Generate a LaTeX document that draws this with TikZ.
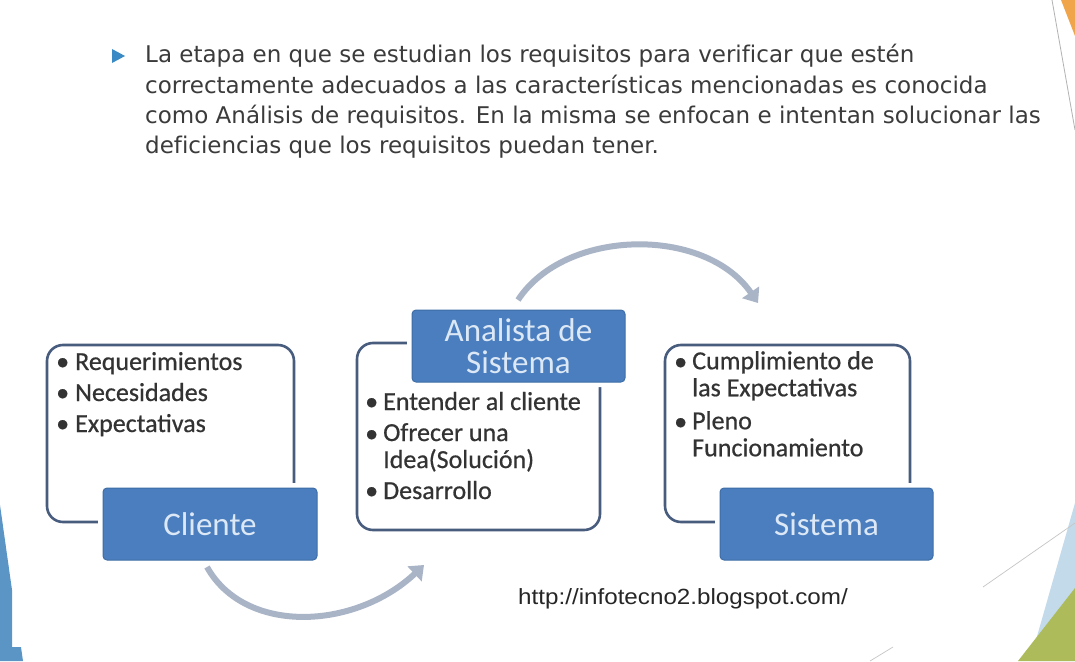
\documentclass[tikz,border=0pt]{standalone}
\usepackage{fontspec}
\setmainfont[Ligatures=NoCommon]{DejaVu Sans}
\newfontfamily\calib{Carlito}
\newfontfamily\calibb[FakeBold=0.6]{Carlito}
\newfontfamily\arialf{Liberation Sans}
\usetikzlibrary{arrows.meta,calc}
\definecolor{boxblue}{HTML}{4A7EBF}
\definecolor{boxedge}{HTML}{3F6DA6}
\definecolor{boxtext}{HTML}{DCE8F5}
\definecolor{panelline}{HTML}{485C7E}
\definecolor{arrowgray}{HTML}{A9B5C7}
\definecolor{bodytext}{HTML}{3B3B3B}
\definecolor{itemtext}{HTML}{333333}
\definecolor{tri}{HTML}{3A8AC6}
\definecolor{decoblue}{HTML}{5A95C5}
\definecolor{lightblue}{HTML}{C3DAEA}
\definecolor{decogreen}{HTML}{ADBB5A}
\definecolor{decoorange}{HTML}{F0A54A}
\begin{document}
\begin{tikzpicture}[x=1pt,y=-1pt,
  titlebox/.style={preaction={draw=white,line width=10pt},fill=boxblue,draw=boxedge,line width=1pt,
     rounded corners=4pt,minimum width=213pt,minimum height=72pt,inner sep=0pt,
     text=boxtext,font=\calib\fontsize{33}{33}\selectfont,align=center},
  panel/.style={draw=panelline,line width=2.6pt,rounded corners=16pt},
  item/.style={anchor=base west,inner sep=0pt,text=itemtext,font=\calibb\fontsize{26}{27}\selectfont},
  bul/.style={anchor=base west,inner sep=0pt,text=itemtext,font=\calibb\fontsize{26}{27}\selectfont},
  para/.style={anchor=base west,inner sep=0pt,text=bodytext,font=\fontsize{23}{30}\selectfont},
  flow/.style={draw=arrowgray,line width=6pt,-{Triangle[length=13pt,width=20pt]}}]
\useasboundingbox (0,0) rectangle (1075,661);
\fill[white] (0,0) rectangle (1075,661);
% decorations
\fill[decoblue] (0,505) -- (12,590) -- (12,647) -- (21,647) -- (23,661) -- (0,661) -- cycle;
\fill[decoorange] (1061,0) -- (1075,0) -- (1075,36) -- cycle;
\draw[gray!60,line width=0.8pt] (1052,0) -- (1075,130);
\fill[lightblue] (1075,503) -- (1030,661) -- (1075,661) -- cycle;
\fill[decogreen] (1018,661) -- (1075,588) -- (1075,661) -- cycle;
\draw[gray!45,line width=0.7pt] (983,587) -- (1075,523);
\draw[gray!45,line width=0.7pt] (870,661) -- (893,647);
% header paragraph
\fill[tri] (112,49) -- (125,56) -- (112,63) -- cycle;
\node[para] (p1) at (145,63) {La etapa en que se estudian los requisitos para verificar que estén};
\node[para] (p2) at (145,93) {correctamente adecuados a las características mencionadas es conocida};
\node[para] (p3) at (145,123) {como Análisis de requisitos. En la misma se enfocan e intentan solucionar las};
\node[para] (p4) at (145,153) {deficiencias que los requisitos puedan tener.};
% panels
\draw[panel] (47,345) rectangle (294,522);
\draw[panel] (357,343) rectangle (600,530);
\draw[panel] (665,345) rectangle (910,522);
% title boxes
\node[titlebox,minimum width=214pt] (cli) at (210,524) {Cliente};
\node[titlebox] (ana) at (518.5,346) {Analista de\\[-1pt]Sistema};
\node[titlebox] (sis) at (826.5,524) {Sistema};
% Cliente items
\node[bul] (c1b) at (56,370) {•};
\node[item] (c1) at (75,370) {Requerimientos};
\node[bul] (c2b) at (56,401) {•};
\node[item] (c2) at (75,401) {Necesidades};
\node[bul] (c3b) at (56,432) {•};
\node[item] (c3) at (75,432) {Expectativas};
% Analista items
\node[bul] (a1b) at (365,410) {•};
\node[item] (a1) at (383,410) {Entender al cliente};
\node[bul] (a2b) at (365,442) {•};
\node[item,align=left,anchor=north west] (a2) at (383,423) {Ofrecer una\\Idea(Solución)};
\node[bul] (a3b) at (365,499) {•};
\node[item] (a3) at (383,499) {Desarrollo};
% Sistema items
\node[bul] (s1b) at (674,370) {•};
\node[item,align=left,anchor=north west] (s1) at (692,351) {Cumplimiento de\\las Expectativas};
\node[bul] (s2b) at (674,430) {•};
\node[item,align=left,anchor=north west] (s2) at (692,411) {Pleno\\Funcionamiento};
% url
\node[anchor=base west,inner sep=0pt,text=black!85,font=\arialf\fontsize{22}{22}\selectfont] (url) at (518,604) {\scalebox{1.1}[1]{http://infotecno2.blogspot.com/}};
% arrows
\coordinate (t1) at (518,300);
\coordinate (t2) at (758,303);
\coordinate (b1) at (207,567);
\coordinate (b2) at (424,565);
\draw[flow] (t1) .. controls (565,228) and (705,226) .. (t2);
\draw[flow] (b1) .. controls (245,635) and (355,630) .. (b2);
\end{tikzpicture}
\end{document}
